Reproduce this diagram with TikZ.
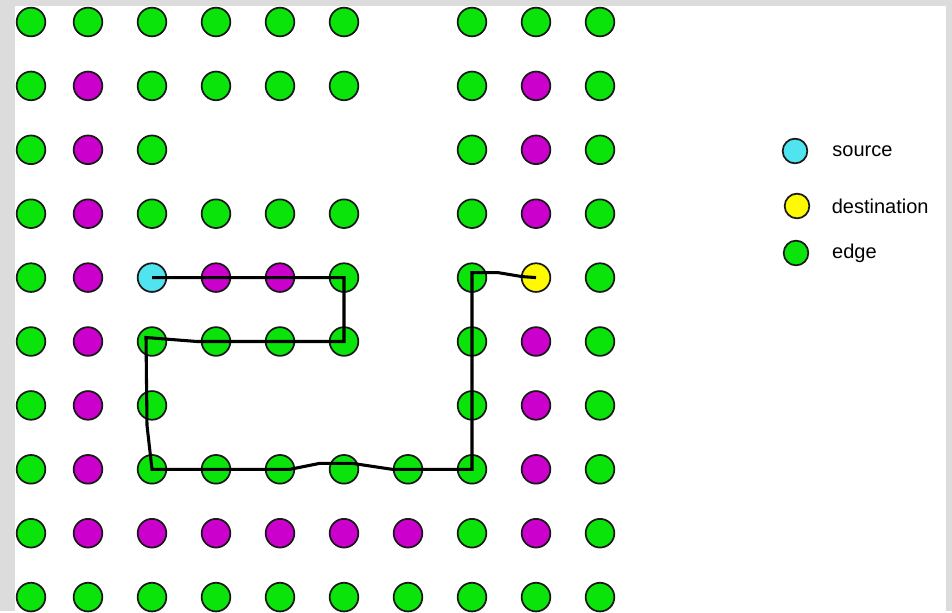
\documentclass[tikz,border=0pt]{standalone}
\usepackage{fontspec}
\setmainfont{Liberation Sans}
\usetikzlibrary{positioning,calc}
\definecolor{framegrey}{RGB}{220,220,220}
\definecolor{edgegreen}{RGB}{10,228,10}
\definecolor{blockmagenta}{RGB}{204,0,204}
\definecolor{srccyan}{RGB}{80,228,240}
\definecolor{dstyellow}{RGB}{255,250,0}
\begin{document}
\begin{tikzpicture}[x=0.75pt,y=-0.75pt,
  dot/.style={circle, draw=black!90, line width=1.3pt, minimum size=21.5pt, inner sep=0pt},
  edgedot/.style={dot, fill=edgegreen},
  blockdot/.style={dot, fill=blockmagenta},
  srcdot/.style={dot, fill=srccyan},
  dstdot/.style={dot, fill=dstyellow},
  legdot/.style={minimum size=18.5pt},
  legtext/.style={inner sep=0pt, font=\fontsize{15}{18}\selectfont},
  route/.style={line width=2.3pt, line join=miter}]
\fill[framegrey] (0,0) rectangle (952,611);
\fill[white] (15,6) rectangle (946,611);
% grid: green edge dots
\foreach \r/\cols in {1/{1,2,3,4,5,6,8,9,10}, 2/{1,3,4,5,6,8,10}, 3/{1,3,8,10}, 4/{1,3,4,5,6,8,10}, 5/{1,6,8,10}, 6/{1,3,4,5,6,8,10}, 7/{1,3,8,10}, 8/{1,3,4,5,6,7,8,10}, 9/{1,8,10}, 10/{1,2,3,4,5,6,7,8,9,10}}
  \foreach \c in \cols
    \node[edgedot] (n\r-\c) at ({\c==1 ? 31 : 88+64*(\c-2)}, {22+63.9*(\r-1)}) {};
% blocked dots
\foreach \r/\cols in {2/{2,9}, 3/{2,9}, 4/{2,9}, 5/{2,4,5}, 6/{2,9}, 7/{2,9}, 8/{2,9}, 9/{2,3,4,5,6,7,9}}
  \foreach \c in \cols
    \node[blockdot] (n\r-\c) at ({\c==1 ? 31 : 88+64*(\c-2)}, {22+63.9*(\r-1)}) {};
\node[srcdot] (n5-3) at (152,277.6) {};
\node[dstdot] (n5-9) at (536,277.6) {};
% route
\draw[route] (n5-3.center) -- (n5-6.center) -- (n6-6.center) -- ($(n6-3)+(45,0)$) -- ($(n6-3)+(-6,-4)$) -- ($(n7-3)+(-5,20)$) -- (n8-3.center) -- ($(n8-5)+(10,0)$) -- ($(n8-5)+(40,-6)$) -- ($(n8-6)+(8,-6)$) -- ($(n8-7)+(-16,0)$) -- (n8-8.center) -- ($(n5-8)+(0,-5)$) -- ($(n5-8)+(26,-5)$) -- ($(n5-9)+(-14,-1)$) -- (n5-9.center);
% legend
\node[srcdot, legdot] (legsrc) at (795,151) {};
\node[dstdot, legdot] (legdst) at (797,206) {};
\node[edgedot, legdot] (legedge) at (796,253) {};
\node[legtext, right=18pt of legsrc] (txtsrc) {source};
\node[legtext, right=16pt of legdst] (txtdst) {destination};
\node[legtext, right=17pt of legedge] (txtedge) {edge};
\end{tikzpicture}
\end{document}
